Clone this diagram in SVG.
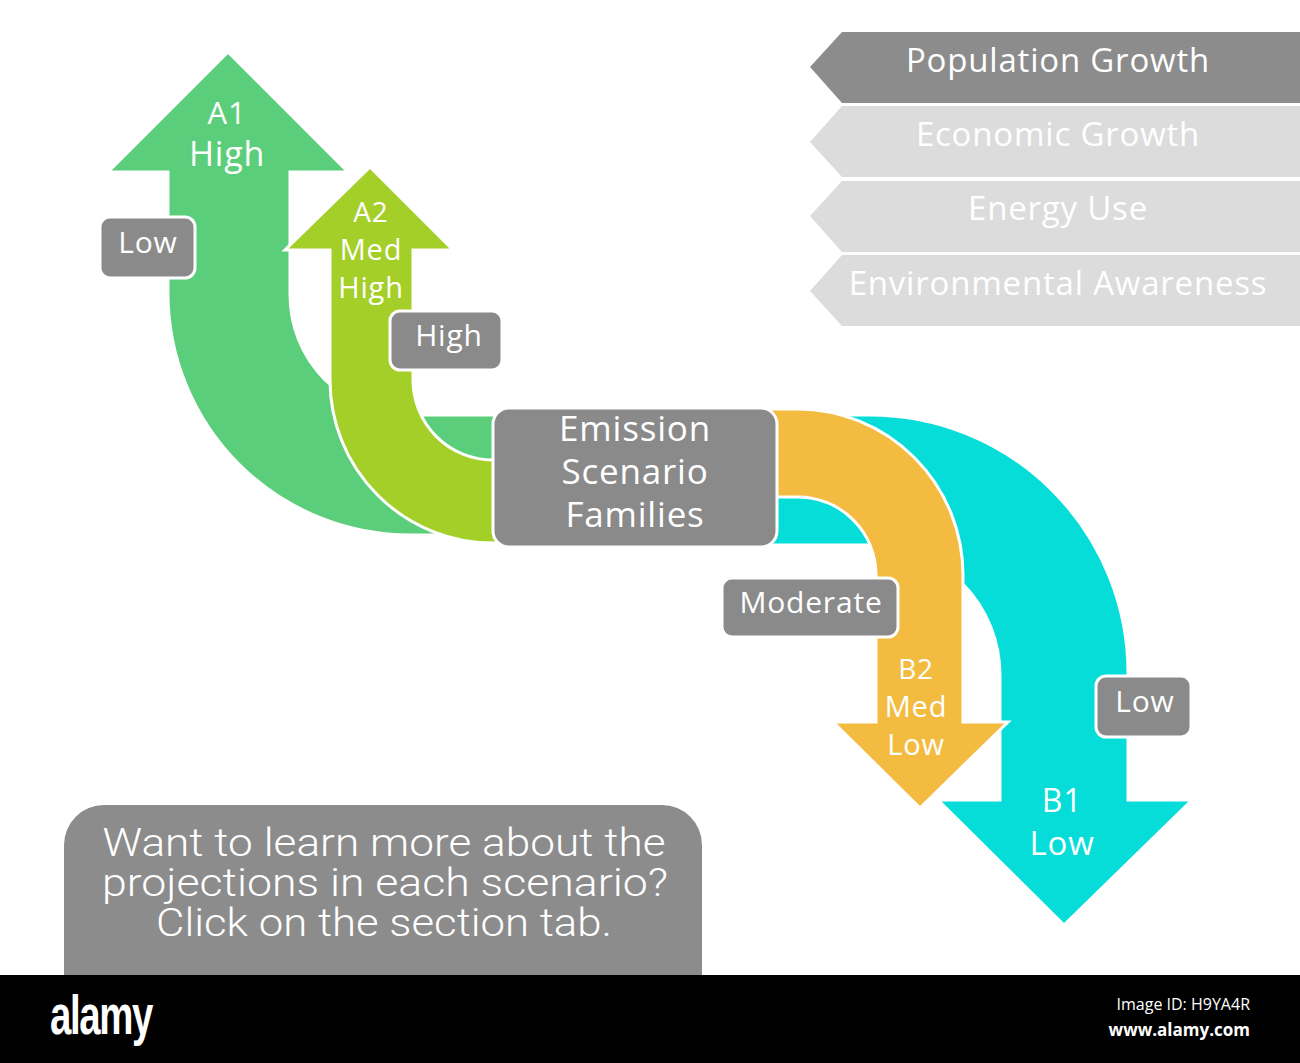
<svg xmlns="http://www.w3.org/2000/svg" width="1300" height="1063" viewBox="0 0 1300 1063">
<style>
.arr{stroke:#fff;stroke-width:3;stroke-linejoin:miter}
.lbl{fill:#8a8a8a;stroke:#fff;stroke-width:3}
.t{font-family:"Open Sans",Lato,"Liberation Sans",sans-serif;fill:#fff;text-anchor:middle;letter-spacing:0.8px}
.b{font-family:Roboto,"Liberation Sans",sans-serif;font-weight:300;fill:#fff;text-anchor:middle;font-size:38px}
</style>
<rect width="1300" height="1063" fill="#fff"/>
<g id="connectors">
<path id="a1" class="arr" fill="#5bce7b" d="M228,52 L348,172 L290,172 L290,295 A120 120 0 0 0 410,415 L510,415 L510,535 L410,535 A242 242 0 0 1 168,295 L168,172 L108,172 Z"/>
<path id="a2" class="arr" fill="#a4cf29" d="M370,167 L453,250 L413,250 L413,380 A80 80 0 0 0 493,460 L510,460 L510,543 L493,543 A163 163 0 0 1 330,380 L330,250 L285,250 Z"/>
<path id="b1" class="arr" fill="#06ddd9" d="M770,415 L870,415 A258 258 0 0 1 1128,673 L1128,800 L1192,800 L1064,925 L938,800 L1000,800 L1000,675 A130 130 0 0 0 870,545 L770,545 Z"/>
<path id="b2" class="arr" fill="#f3bc40" d="M770,409 L798,409 A166 166 0 0 1 963,575 L963,722 L1008,722 L920,808 L833,722 L876,722 L876,575 A78 78 0 0 0 798,497 L770,497 Z"/>
</g>
<g id="arrow-text">
<text class="t" x="227" y="124" font-size="31">A1</text>
<text class="t" x="227" y="166" font-size="34">High</text>
<text class="t" x="371" y="222" font-size="28">A2</text>
<text class="t" x="371" y="260" font-size="29">Med</text>
<text class="t" x="371" y="298" font-size="29">High</text>
<text class="t" x="916" y="679" font-size="28">B2</text>
<text class="t" x="916" y="717" font-size="29">Med</text>
<text class="t" x="916" y="755" font-size="29">Low</text>
<text class="t" x="1062" y="812" font-size="32">B1</text>
<text class="t" x="1062" y="855" font-size="33">Low</text>
</g>
<g id="center">
<rect class="lbl" x="493" y="408" width="284" height="139" rx="16"/>
<text class="t" x="635" y="441" font-size="35">Emission</text>
<text class="t" x="635" y="484" font-size="35">Scenario</text>
<text class="t" x="635" y="527" font-size="35">Families</text>
</g>
<g id="label-low-a1">
<rect class="lbl" x="100" y="217" width="95" height="61" rx="10"/>
<text class="t" x="148" y="253" font-size="30">Low</text>
</g>
<g id="label-high-a2">
<rect class="lbl" x="390" y="311" width="112" height="59" rx="10"/>
<text class="t" x="449" y="346" font-size="30">High</text>
</g>
<g id="label-moderate">
<rect class="lbl" x="722" y="578" width="176" height="59" rx="10"/>
<text class="t" x="811" y="613" font-size="30">Moderate</text>
</g>
<g id="label-low-b1">
<rect class="lbl" x="1096" y="676" width="95" height="61" rx="10"/>
<text class="t" x="1145" y="712" font-size="30">Low</text>
</g>
<g id="tab-population">
<polygon fill="#8c8c8c" points="842,32 1300,32 1300,103 842,103 810,67"/>
<text class="t" x="1058" y="72" font-size="33">Population Growth</text>
</g>
<g id="tab-economic">
<polygon fill="#dcdcdc" points="842,106 1300,106 1300,177 842,177 810,142"/>
<text class="t" x="1058" y="146" font-size="33">Economic Growth</text>
</g>
<g id="tab-energy">
<polygon fill="#dcdcdc" points="842,181 1300,181 1300,252 842,252 810,216"/>
<text class="t" x="1058" y="220" font-size="33">Energy Use</text>
</g>
<g id="tab-environment">
<polygon fill="#dcdcdc" points="842,255 1300,255 1300,326 842,326 810,291"/>
<text class="t" x="1058" y="295" font-size="33">Environmental Awareness</text>
</g>
<g id="info">
<rect x="64" y="805" width="638" height="220" rx="40" fill="#8c8c8c"/>
<text class="b" x="384" y="856" textLength="563" lengthAdjust="spacingAndGlyphs">Want to learn more about the</text>
<text class="b" x="385" y="896" textLength="566" lengthAdjust="spacingAndGlyphs">projections in each scenario?</text>
<text class="b" x="384" y="936" textLength="456" lengthAdjust="spacingAndGlyphs">Click on the section tab.</text>
</g>
<g id="footer">
<rect x="0" y="975" width="1300" height="88" fill="#000"/>
<text x="50" y="1034" font-size="56" font-weight="bold" fill="#fff" textLength="102" lengthAdjust="spacingAndGlyphs" style="font-family:'Liberation Sans',sans-serif;letter-spacing:-2px">alamy</text>
<text x="1250" y="1010" font-size="16" fill="#fff" text-anchor="end" style="font-family:'Open Sans','Noto Sans',sans-serif">Image ID: H9YA4R</text>
<text x="1250" y="1036" font-size="17" font-weight="bold" fill="#fff" text-anchor="end" style="font-family:'Open Sans','Noto Sans',sans-serif">www.alamy.com</text>
</g>
</svg>
